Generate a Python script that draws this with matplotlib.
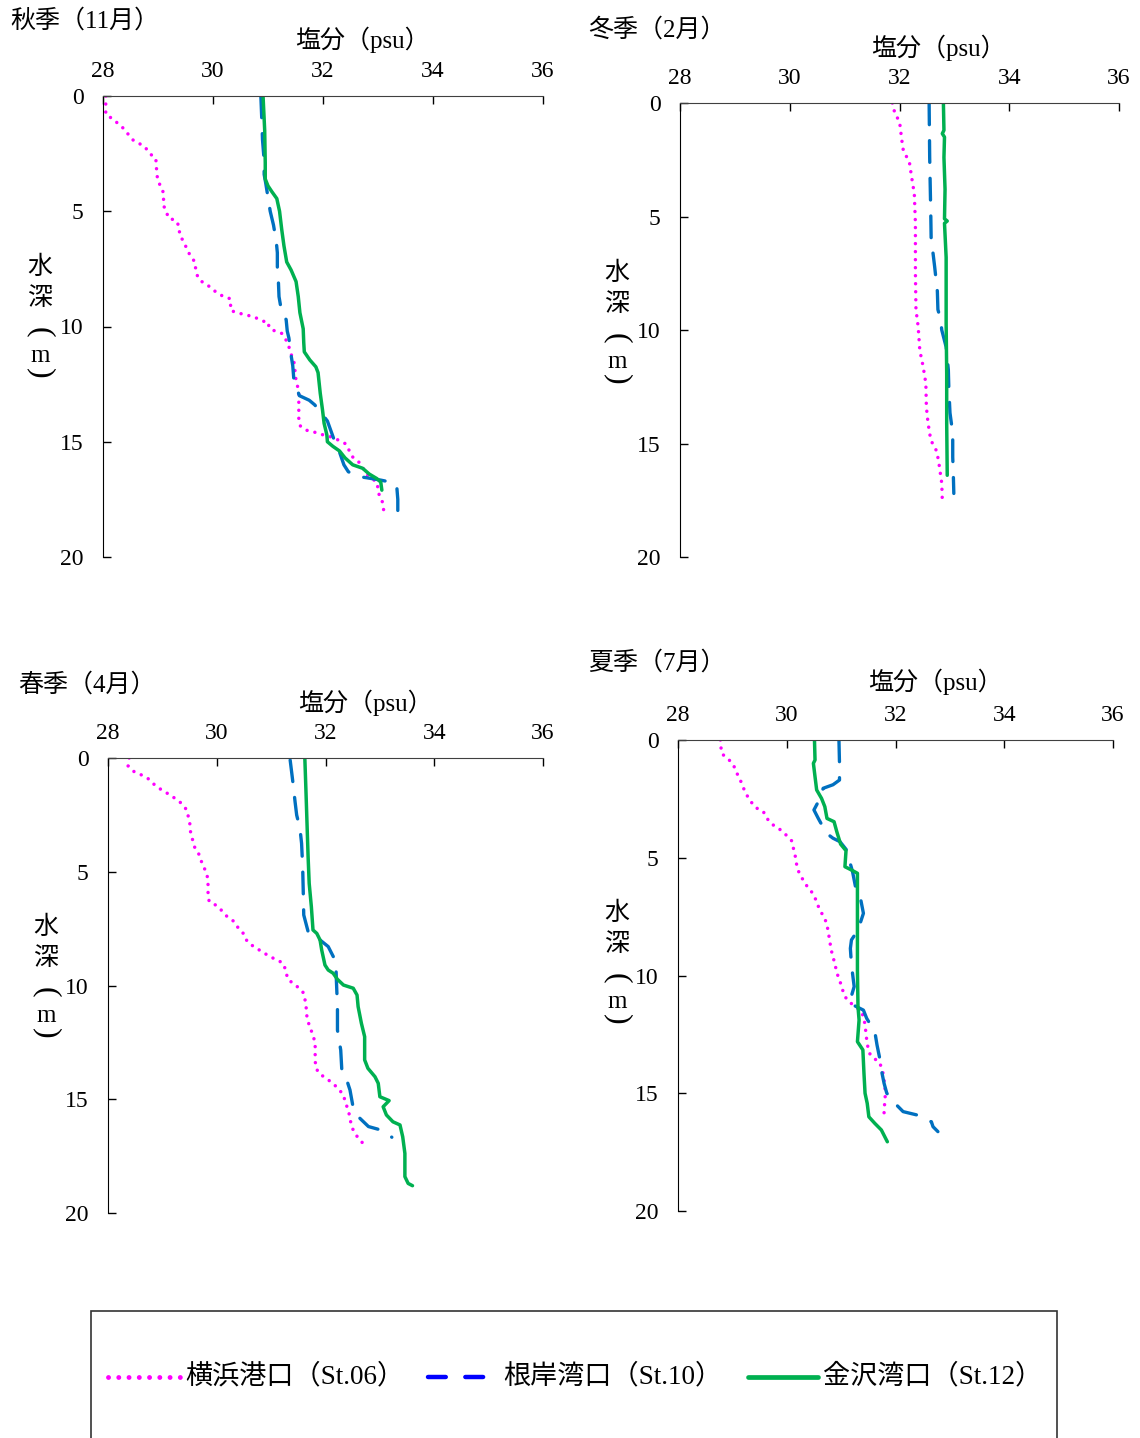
import matplotlib
matplotlib.use("Agg")
import matplotlib.pyplot as plt
from matplotlib.lines import Line2D
from matplotlib.patches import Rectangle

plt.rcParams["font.family"] = ["Liberation Serif", "Noto Sans CJK JP"]

W, H = 1140, 1438

# --- 秋季（11月） ---
aut_s06_dep = [0.0, 0.8, 1.0, 1.4, 1.9, 2.2, 2.5, 2.7, 3.4, 3.7, 4.0, 4.3, 4.7, 5.0, 5.3, 5.4, 5.7, 6.0, 6.3, 6.9,
               7.2, 7.6, 7.9, 8.1, 8.3, 8.5, 8.7, 8.8, 9.1, 9.3, 9.4, 9.5, 9.6, 9.75, 9.85, 10.0, 10.15, 10.3, 10.5,
               10.8, 11.2, 11.5, 11.9, 12.2, 12.5, 12.9, 13.3, 13.6, 14.0, 14.3, 14.5, 14.6, 14.7, 14.8, 14.95,
               15.1, 15.4, 15.7, 15.9, 16.15, 16.4, 16.6, 16.8, 17.2, 17.5, 17.9, 18.2]
aut_s06_sal = [28.05, 28.05, 28.18, 28.37, 28.54, 28.76, 28.85, 28.96, 28.98, 29.0, 29.07, 29.11, 29.09, 29.15,
               29.19, 29.33, 29.39, 29.39, 29.46, 29.58, 29.67, 29.69, 29.73, 29.82, 29.96, 30.05, 30.19, 30.32,
               30.32, 30.32, 30.43, 30.61, 30.76, 30.89, 31.02, 31.01, 31.08, 31.25, 31.31, 31.37, 31.42, 31.47,
               31.49, 31.5, 31.53, 31.56, 31.56, 31.56, 31.56, 31.58, 31.7, 31.87, 32.0, 32.16, 32.3, 32.42, 32.48,
               32.55, 32.66, 32.73, 32.78, 32.9, 32.99, 33.0, 33.07, 33.1, 33.11]
aut_s10_dep = [0.0, 1.2, 1.9, 2.8, 3.4, 3.8, 4.4, 5.0, 5.6, 6.3, 6.8, 7.5, 8.1, 8.7, 9.4, 9.7, 10.2, 10.5, 11.1,
               11.7, 12.3, 13.0, 13.2, 13.4, 13.7, 14.1, 14.5, 14.9, 15.1, 16.0, 16.3, 16.5, 16.56, 16.66, 16.76,
               16.9, 17.5, 18.2]
aut_s10_sal = [30.87, 30.89, 30.9, 30.93, 30.93, 30.96, 31.0, 31.04, 31.1, 31.15, 31.17, 31.17, 31.19, 31.2,
               31.25, 31.33, 31.35, 31.38, 31.41, 31.45, 31.47, 31.57, 31.75, 31.85, 31.95, 32.08, 32.14, 32.2,
               32.25, 32.38, 32.46, 32.61, 32.79, 33.04, 33.25, 33.34, 33.36, 33.36]
aut_s12_dep = [0.0, 1.5, 2.9, 3.6, 3.9, 4.15, 4.45, 5.0, 5.8, 6.5, 7.2, 7.55, 8.05, 8.7, 9.4, 10.1, 10.7, 11.1,
               11.45, 11.75, 12.0, 12.9, 13.6, 14.2, 14.7, 15.0, 15.2, 15.4, 15.7, 16.0, 16.15, 16.4, 16.6, 16.75, 17.1]
aut_s12_sal = [30.91, 30.94, 30.95, 30.95, 31.0, 31.07, 31.16, 31.21, 31.25, 31.29, 31.34, 31.42, 31.51, 31.55,
               31.58, 31.64, 31.65, 31.66, 31.76, 31.87, 31.91, 31.95, 31.99, 32.02, 32.07, 32.08, 32.18, 32.3,
               32.4, 32.54, 32.72, 32.84, 32.98, 33.05, 33.07]

# --- 冬季（2月） ---
win_s06_dep = [0.0, 0.5, 0.8, 1.6, 2.1, 2.6, 3.25, 4.0, 5.3, 7.5, 9.1, 9.85, 10.9, 11.6, 12.35, 13.4, 14.1, 14.85,
               15.35, 15.9, 16.75, 17.5]
win_s06_sal = [31.87, 31.92, 32.0, 32.04, 32.07, 32.18, 32.22, 32.27, 32.29, 32.29, 32.3, 32.34, 32.37, 32.43,
               32.48, 32.49, 32.52, 32.57, 32.68, 32.72, 32.77, 32.78]
win_s10_dep = [0.0, 2.4, 4.9, 6.5, 6.6, 7.2, 8.3, 9.1, 9.55, 10.0, 10.75, 11.75, 12.65, 13.65, 14.55, 15.6, 16.3, 17.2]
win_s10_sal = [32.54, 32.55, 32.57, 32.58, 32.61, 32.64, 32.69, 32.7, 32.75, 32.77, 32.85, 32.89, 32.9, 32.92,
               32.97, 32.97, 32.98, 32.99]
win_s12_dep = [0.0, 1.2, 1.35, 1.5, 2.4, 3.8, 5.1, 5.2, 5.3, 6.8, 9.7, 11.9, 14.1, 16.4]
win_s12_sal = [32.8, 32.81, 32.78, 32.82, 32.81, 32.83, 32.82, 32.87, 32.82, 32.85, 32.85, 32.86, 32.86, 32.87]

# --- 春季（4月） ---
spr_s06_dep = [0.0, 0.35, 0.6, 0.75, 0.94, 1.19, 1.41, 1.58, 1.77, 1.99, 2.29, 2.61, 2.95, 3.31, 3.63, 3.97, 4.26,
               4.56, 4.89, 5.24, 5.58, 5.95, 6.31, 6.49, 6.75, 6.97, 7.19, 7.49, 7.74, 8.07, 8.29, 8.48, 8.66, 8.84,
               9.0, 9.32, 9.69, 9.91, 10.12, 10.34, 10.71, 11.08, 11.44, 11.81, 12.18, 12.54, 12.91, 13.25, 13.6,
               13.86, 14.08, 14.27, 14.52, 14.81, 15.18, 15.47, 15.84, 16.2, 16.5, 16.79, 17.06]
spr_s06_sal = [28.39, 28.37, 28.48, 28.62, 28.76, 28.86, 28.99, 29.11, 29.23, 29.35, 29.45, 29.48, 29.51, 29.52,
               29.56, 29.6, 29.68, 29.72, 29.78, 29.83, 29.84, 29.84, 29.86, 30.0, 30.11, 30.19, 30.32, 30.4, 30.5,
               30.56, 30.68, 30.81, 30.93, 31.07, 31.21, 31.27, 31.3, 31.4, 31.52, 31.6, 31.63, 31.65, 31.66, 31.71,
               31.77, 31.81, 31.81, 31.81, 31.82, 31.88, 32.01, 32.12, 32.23, 32.33, 32.37, 32.42, 32.45, 32.48,
               32.54, 32.63, 32.74]
spr_s10_dep = [0.09, 0.67, 1.26, 1.92, 2.51, 3.09, 3.75, 4.78, 5.8, 6.9, 7.63, 7.85, 8.0, 8.29, 8.95, 9.76, 10.93,
               11.96, 12.84, 13.71, 13.93, 14.59, 15.25, 15.74, 16.2, 16.32, 16.47, 16.67]
spr_s10_sal = [31.35, 31.38, 31.41, 31.44, 31.47, 31.53, 31.56, 31.58, 31.59, 31.6, 31.68, 31.74, 31.9, 32.05,
               32.19, 32.2, 32.22, 32.22, 32.28, 32.3, 32.36, 32.45, 32.5, 32.59, 32.79, 32.97, 33.11, 33.22]
spr_s12_dep = [0.01, 1.41, 2.87, 4.34, 5.51, 6.54, 7.56, 7.71, 8.0, 8.44, 9.1, 9.32, 9.46, 9.73, 9.98, 10.12, 10.42,
               10.93, 11.66, 12.25, 13.27, 13.64, 14.01, 14.3, 14.89, 15.06, 15.33, 15.69, 15.99, 16.13, 16.65,
               17.38, 18.4, 18.7, 18.8]
spr_s12_sal = [31.62, 31.64, 31.66, 31.68, 31.7, 31.74, 31.77, 31.84, 31.9, 31.93, 31.99, 32.05, 32.14, 32.22,
               32.33, 32.51, 32.58, 32.6, 32.66, 32.72, 32.72, 32.78, 32.91, 32.97, 33.0, 33.17, 33.06, 33.12,
               33.24, 33.37, 33.42, 33.46, 33.46, 33.52, 33.6]

# --- 夏季（7月） ---
sum_s06_dep = [0.0, 0.57, 0.82, 1.06, 1.35, 1.67, 1.95, 2.19, 2.52, 2.86, 3.04, 3.28, 3.57, 3.71, 3.89, 4.08, 4.28,
               4.67, 5.07, 5.45, 5.78, 6.06, 6.3, 6.51, 6.86, 7.19, 7.5, 7.81, 8.14, 8.49, 8.85, 9.2, 9.55, 9.88,
               10.19, 10.47, 10.79, 11.04, 11.25, 11.44, 11.72, 12.1, 12.53, 12.91, 13.3, 13.52, 13.66, 14.01,
               14.44, 14.86, 15.29, 15.64, 16.07]
sum_s06_sal = [28.78, 28.8, 28.93, 29.02, 29.07, 29.14, 29.19, 29.23, 29.31, 29.42, 29.57, 29.62, 29.72, 29.83,
               29.92, 30.01, 30.09, 30.13, 30.17, 30.19, 30.26, 30.33, 30.4, 30.48, 30.55, 30.6, 30.68, 30.74, 30.76,
               30.79, 30.81, 30.85, 30.89, 30.92, 30.97, 31.01, 31.05, 31.11, 31.22, 31.33, 31.41, 31.44, 31.46,
               31.48, 31.52, 31.6, 31.7, 31.76, 31.79, 31.81, 31.81, 31.79, 31.79]
sum_s10_dep = [0.0, 0.99, 1.7, 1.9, 2.05, 2.62, 2.97, 3.33, 3.96, 4.17, 4.32, 4.67, 5.1, 5.59, 6.3, 6.65, 7.36, 8.07,
               8.49, 8.85, 9.55, 10.47, 11.18, 11.32, 11.47, 11.82, 12.39, 12.95, 13.52, 14.01, 14.58, 15.0, 15.5,
               15.78, 15.92, 16.14, 16.21, 16.42, 16.63]
sum_s10_sal = [30.96, 30.97, 30.97, 30.85, 30.67, 30.58, 30.5, 30.58, 30.73, 30.85, 30.98, 31.1, 31.15, 31.21,
               31.27, 31.35, 31.41, 31.31, 31.19, 31.17, 31.19, 31.24, 31.15, 31.28, 31.41, 31.47, 31.62, 31.66,
               31.71, 31.74, 31.79, 31.84, 32.02, 32.14, 32.39, 32.57, 32.66, 32.69, 32.78]
sum_s12_dep = [0.0, 0.85, 0.99, 1.56, 2.12, 2.48, 2.83, 3.33, 3.47, 3.89, 4.42, 4.7, 5.38, 5.52, 5.66, 6.93, 8.35,
               9.77, 11.32, 11.89, 12.81, 13.16, 14.15, 15.0, 15.43, 16.0, 16.28, 16.56, 17.06]
sum_s12_sal = [30.51, 30.52, 30.49, 30.52, 30.55, 30.64, 30.7, 30.74, 30.87, 30.92, 30.99, 31.09, 31.07, 31.19,
               31.3, 31.3, 31.3, 31.3, 31.31, 31.33, 31.3, 31.4, 31.42, 31.44, 31.48, 31.51, 31.62, 31.74, 31.85]

stations = ["横浜港口（St.06）", "根岸湾口（St.10）", "金沢湾口（St.12）"]
sal_ticks = [28, 30, 32, 34, 36]
dep_ticks = [0, 5, 10, 15, 20]

styles = [
    dict(color="#FF00FF", lw=2.5, ls=(0, (0.01, 2.3)), dash_capstyle="round"),
    dict(color="#0070C0", lw=2.4, ls=(0, (6.5, 4.8)), dash_capstyle="round"),
    dict(color="#00B050", lw=2.5, ls="-", solid_capstyle="round"),
]


def fx(x):
    return x / W


def fy(y):
    return 1 - y / H


fig = plt.figure(figsize=(11.4, 14.38), dpi=100)

panels = [
    ("秋季（11月）", (103, 96, 543, 557), (10, 21), (362, 40), (40, 267),
     [(aut_s06_sal, aut_s06_dep), (aut_s10_sal, aut_s10_dep), (aut_s12_sal, aut_s12_dep)]),
    ("冬季（2月）", (680, 103, 1119, 557), (588, 30), (938, 48), (617, 273),
     [(win_s06_sal, win_s06_dep), (win_s10_sal, win_s10_dep), (win_s12_sal, win_s12_dep)]),
    ("春季（4月）", (108, 758, 543, 1213), (18, 685), (365, 703), (46, 927),
     [(spr_s06_sal, spr_s06_dep), (spr_s10_sal, spr_s10_dep), (spr_s12_sal, spr_s12_dep)]),
    ("夏季（7月）", (678, 740, 1113, 1211), (588, 663), (935, 682), (617, 913),
     [(sum_s06_sal, sum_s06_dep), (sum_s10_sal, sum_s10_dep), (sum_s12_sal, sum_s12_dep)]),
]

# vertical axis title: characters stacked, brackets turned sideways
ylab_chars = [("水", 0, 0), ("深", 32, 0), ("(", 65, -90), ("m", 89, 0), (")", 106, -90)]

for title, (x0, y0, x1, y1), tpos, xlpos, ylpos, series in panels:
    ax = fig.add_axes([fx(x0), fy(y1), (x1 - x0) / W, (y1 - y0) / H])
    for (sal, dep), st in zip(series, styles):
        ax.plot(sal, dep, **st)
    ax.set_xlim(28, 36)
    ax.set_ylim(20, 0)
    ax.set_xticks(sal_ticks)
    ax.set_yticks(dep_ticks)
    ax.xaxis.tick_top()
    ax.spines["bottom"].set_visible(False)
    ax.spines["right"].set_visible(False)
    ax.spines["top"].set_color("#404040")
    ax.spines["left"].set_color("black")
    ax.tick_params(axis="x", direction="in", length=6, width=1, labelsize=17, pad=10)
    ax.tick_params(axis="y", direction="in", length=6, width=1, labelsize=17, pad=14)
    ax.patch.set_alpha(0)

    fig.text(fx(tpos[0]), fy(tpos[1]), title, fontsize=18, ha="left", va="center")
    fig.text(fx(xlpos[0]), fy(xlpos[1]), "塩分（psu）", fontsize=18, ha="center", va="center")
    for ch, dy, rot in ylab_chars:
        fs = 23 if rot else 18
        fig.text(fx(ylpos[0]), fy(ylpos[1] + dy), ch, fontsize=fs, ha="center", va="center",
                 rotation=rot)

# legend box (runs off the bottom edge as in the original)
fig.add_artist(Rectangle((fx(91), fy(1450)), (1057 - 91) / W, (1450 - 1311) / H,
                         transform=fig.transFigure, fill=False, edgecolor="#333333", lw=1.2))

leg_y = 1377
leg_items = [
    ((108, 180), 185, dict(color="#FF00FF", lw=3.5, ls=(0, (0.01, 2.1)), dash_capstyle="round")),
    ((428, 487), 503, dict(color="#0000FF", lw=3.2, ls=(0, (4, 4.4)), dash_capstyle="round")),
    ((748, 818), 823, dict(color="#00B050", lw=3.4, ls="-", solid_capstyle="round")),
]
for ((lx0, lx1), tx, st), name in zip(leg_items, stations):
    fig.add_artist(Line2D([fx(lx0), fx(lx1)], [fy(leg_y), fy(leg_y)], transform=fig.transFigure, **st))
    fig.text(fx(tx), fy(leg_y), name, fontsize=19.5, ha="left", va="center")

fig.savefig("out.png", dpi=100)
